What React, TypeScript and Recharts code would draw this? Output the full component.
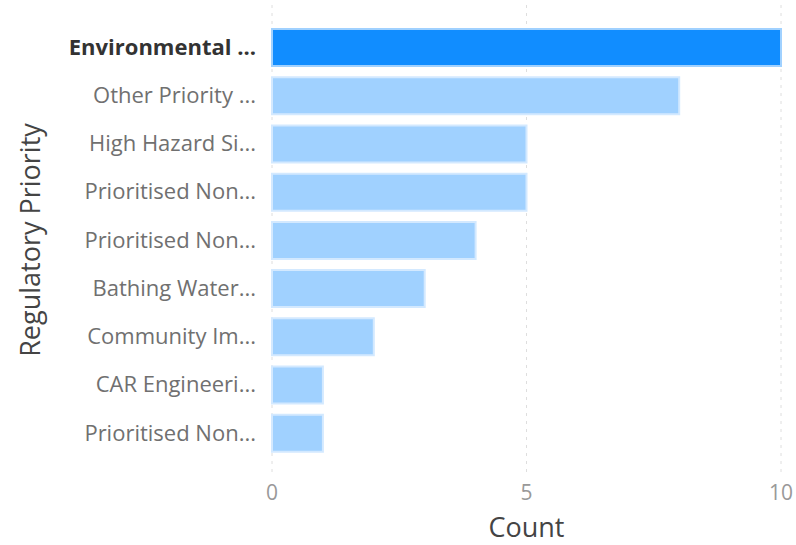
import { Bar, BarChart, CartesianGrid, Cell, XAxis, YAxis } from 'recharts';

const priorities = [
  'Environmental ...',
  'Other Priority ...',
  'High Hazard Si...',
  'Prioritised Non...',
  'Prioritised Non...',
  'Bathing Water...',
  'Community Im...',
  'CAR Engineeri...',
  'Prioritised Non...',
];
const counts = [10, 8, 5, 5, 4, 3, 2, 1, 1];
const countTicks = [0, 5, 10];

const data = priorities.map((name, i) => ({ id: i, name, count: counts[i] }));

const FONT = "'Segoe UI', 'Open Sans', sans-serif";

const PriorityTick = (props: any) => {
  const { x, y, payload } = props;
  const first = payload.value === 0;
  return (
    <text
      x={x}
      y={y}
      dy='0.35em'
      textAnchor='end'
      fontFamily={FONT}
      fontSize={22}
      fontWeight={first ? 700 : 400}
      fill={first ? '#333' : '#707070'}
    >
      {priorities[payload.value]}
    </text>
  );
};

const App = () => {
  return (
    <div style={{ position: 'absolute', left: 0, top: 0, width: 796, height: 545 }}>
      <BarChart
        width={796}
        height={545}
        data={data}
        layout='vertical'
        margin={{ top: 5, right: 15, bottom: 0, left: 0 }}
        barSize={37}
        style={{ overflow: 'visible' }}
      >
        <CartesianGrid horizontal={false} stroke='#dedede' strokeDasharray='3 5' />
        <XAxis
          type='number'
          domain={[0, 10]}
          ticks={countTicks}
          axisLine={false}
          tickLine={false}
          tickSize={8}
          height={70}
          tick={{ fill: '#999', fontSize: 21, fontFamily: FONT }}
          label={{
            value: 'Count',
            position: 'center',
            dy: 17,
            fill: '#444',
            fontSize: 27,
            fontFamily: FONT,
          }}
        />
        <YAxis
          type='category'
          dataKey='id'
          width={272}
          axisLine={false}
          tickLine={false}
          tickSize={14}
          interval={0}
          padding={{ top: 18, bottom: 18 }}
          tick={<PriorityTick />}
          label={{
            value: 'Regulatory Priority',
            angle: -90,
            position: 'center',
            dx: -106,
            fill: '#444',
            fontSize: 27,
            fontFamily: FONT,
          }}
        />
        <Bar dataKey='count' isAnimationActive={false} strokeWidth={2}>
          {data.map((d) => (
            <Cell
              key={d.id}
              fill={d.id === 0 ? '#118DFF' : '#A0D1FF'}
              stroke={d.id === 0 ? '#A0D1FF' : '#D3E9FF'}
            />
          ))}
        </Bar>
      </BarChart>
    </div>
  );
};

export default App;
